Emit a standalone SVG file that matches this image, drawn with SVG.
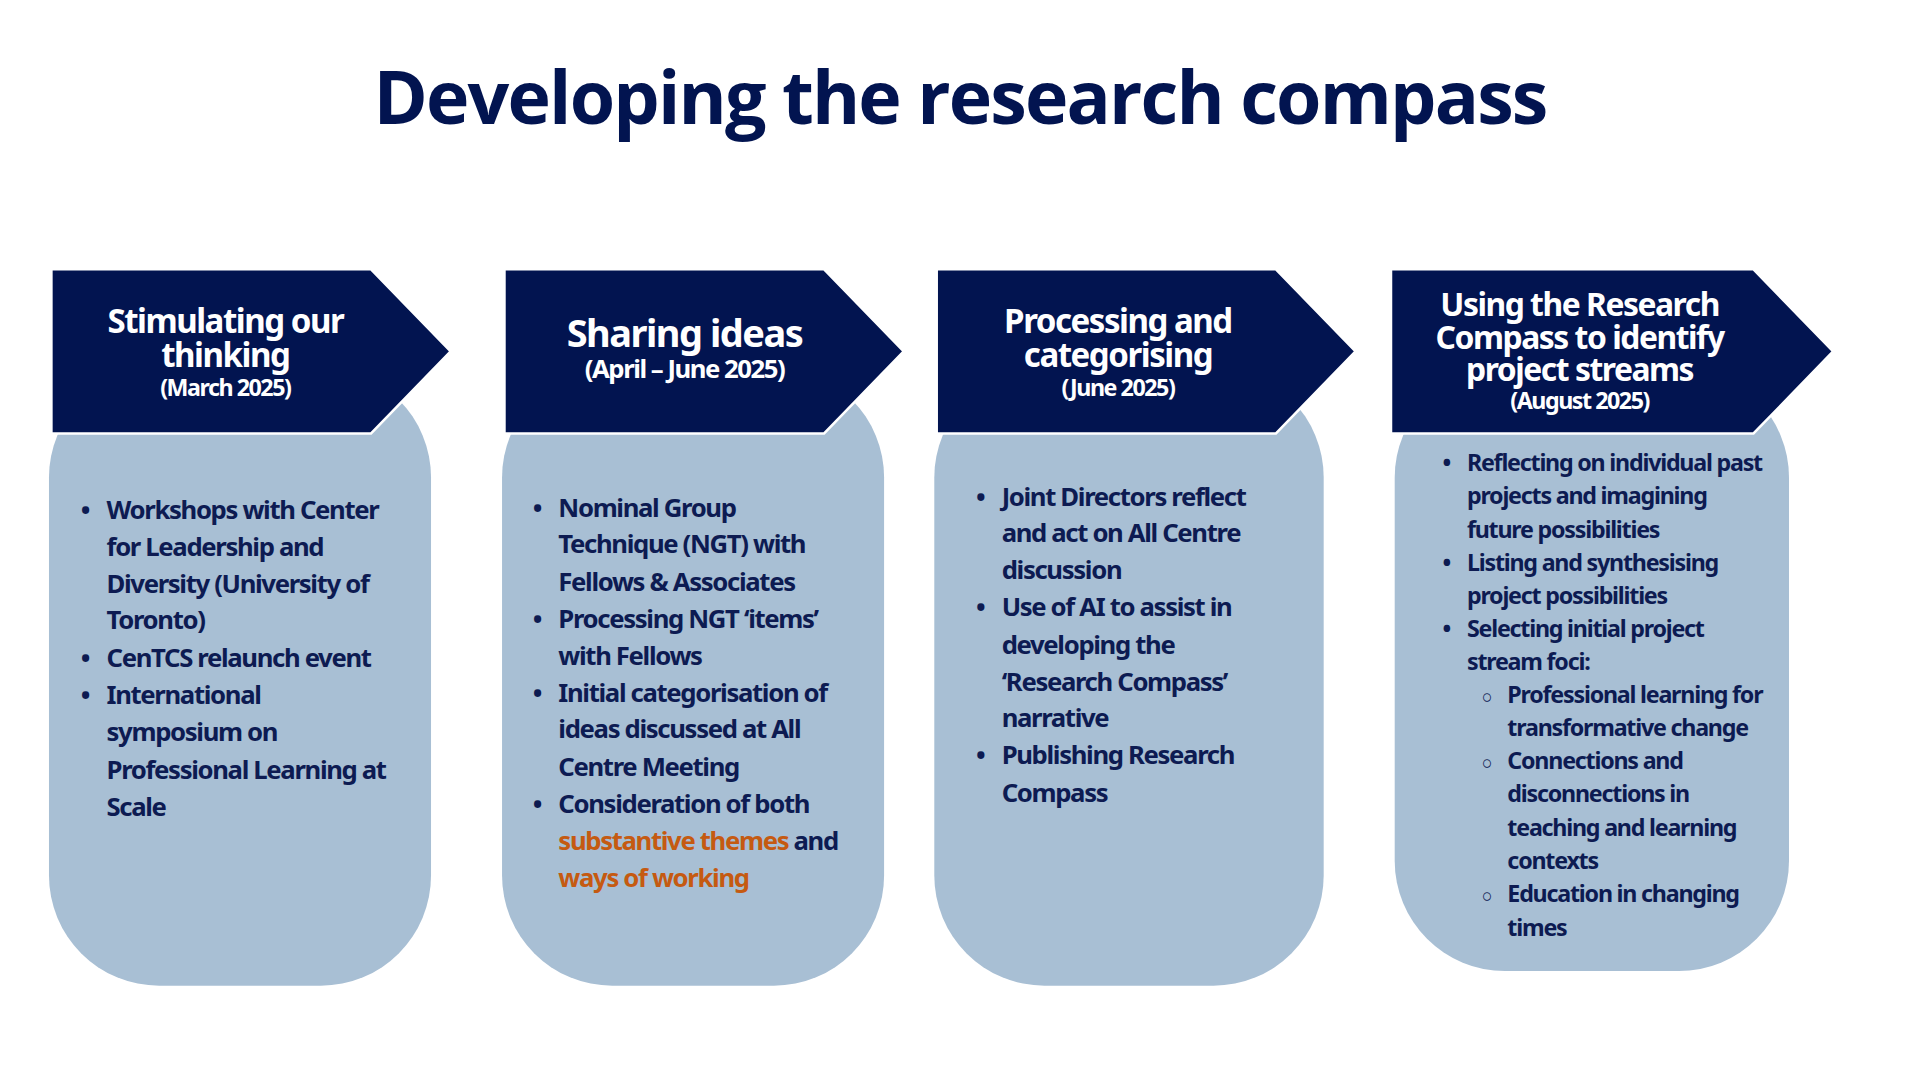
<svg xmlns="http://www.w3.org/2000/svg" width="1920" height="1080" viewBox="0 0 1920 1080">
<style>
.card{fill:#a8bfd4}
.hd{fill:#021450;stroke:#fff;stroke-width:2}
.ht{font-family:"Noto Sans",sans-serif;font-weight:700;fill:#fff;text-anchor:middle;letter-spacing:-1.2px}
.b{font-family:"Noto Sans",sans-serif;font-weight:700;fill:#0d1b52;font-size:21px;letter-spacing:-1.1px}
.b4{font-size:19px;letter-spacing:-1px}
.o{fill:#c55a11}
.t{font-family:"Open Sans","Noto Sans",sans-serif;font-weight:700;fill:#021450;font-size:60px;text-anchor:middle;letter-spacing:-1.5px}
</style>
<rect width="1920" height="1080" fill="#fff"/>
<g transform="scale(1.2245)">
<text class="t" x="784" y="101">Developing the research compass</text>
<g id="stage1">
<rect class="card" x="40" y="300" width="312" height="505" rx="90"/>
<polygon class="hd" points="42,220 303,220 368,287 303,354 42,354"/>
<text class="ht" font-size="27" x="184" y="272">Stimulating our</text>
<text class="ht" font-size="27" x="184" y="300">thinking</text>
<text class="ht" font-size="19" x="184" y="323">(March 2025)</text>
<g class="b">
<text x="66" y="424">•</text><text x="87" y="424">Workshops with Center</text>
<text x="87" y="454">for Leadership and</text>
<text x="87" y="484">Diversity (University of</text>
<text x="87" y="514">Toronto)</text>
<text x="66" y="545">•</text><text x="87" y="545">CenTCS relaunch event</text>
<text x="66" y="575">•</text><text x="87" y="575">International</text>
<text x="87" y="605">symposium on</text>
<text x="87" y="636">Professional Learning at</text>
<text x="87" y="666">Scale</text>
</g>
</g>
<g id="stage2">
<rect class="card" x="410" y="300" width="312" height="505" rx="90"/>
<polygon class="hd" points="412,220 673,220 738,287 673,354 412,354"/>
<text class="ht" font-size="31" x="559" y="283">Sharing ideas</text>
<text class="ht" font-size="21" x="559" y="309">(April – June 2025)</text>
<g class="b">
<text x="435" y="422">•</text><text x="456" y="422">Nominal Group</text>
<text x="456" y="452">Technique (NGT) with</text>
<text x="456" y="483">Fellows &amp; Associates</text>
<text x="435" y="513">•</text><text x="456" y="513">Processing NGT ‘items’</text>
<text x="456" y="543">with Fellows</text>
<text x="435" y="573">•</text><text x="456" y="573">Initial categorisation of</text>
<text x="456" y="603">ideas discussed at All</text>
<text x="456" y="634">Centre Meeting</text>
<text x="435" y="664">•</text><text x="456" y="664">Consideration of both</text>
<text x="456" y="694"><tspan class="o">substantive themes</tspan> and</text>
<text x="456" y="724" class="o">ways of working</text>
</g>
</g>
<g id="stage3">
<rect class="card" x="763" y="300" width="318" height="505" rx="90"/>
<polygon class="hd" points="765,220 1042,220 1107,287 1042,354 765,354"/>
<text class="ht" font-size="27" x="913" y="272">Processing and</text>
<text class="ht" font-size="27" x="913" y="300">categorising</text>
<text class="ht" font-size="19" x="913" y="323">(June 2025)</text>
<g class="b">
<text x="797" y="413">•</text><text x="818" y="413">Joint Directors reflect</text>
<text x="818" y="443">and act on All Centre</text>
<text x="818" y="473">discussion</text>
<text x="797" y="503">•</text><text x="818" y="503">Use of AI to assist in</text>
<text x="818" y="534">developing the</text>
<text x="818" y="564">‘Research Compass’</text>
<text x="818" y="594">narrative</text>
<text x="797" y="624">•</text><text x="818" y="624">Publishing Research</text>
<text x="818" y="655">Compass</text>
</g>
</g>
<g id="stage4">
<rect class="card" x="1139" y="300" width="322" height="493" rx="90"/>
<polygon class="hd" points="1136,220 1432,220 1497,287 1432,354 1136,354"/>
<text class="ht" font-size="26" x="1290" y="258">Using the Research</text>
<text class="ht" font-size="26" x="1290" y="285">Compass to identify</text>
<text class="ht" font-size="26" x="1290" y="311">project streams</text>
<text class="ht" font-size="19" x="1290" y="334">(August 2025)</text>
<g class="b b4">
<text x="1178" y="385">•</text><text x="1198" y="385">Reflecting on individual past</text>
<text x="1198" y="412">projects and imagining</text>
<text x="1198" y="439">future possibilities</text>
<text x="1178" y="466">•</text><text x="1198" y="466">Listing and synthesising</text>
<text x="1198" y="493">project possibilities</text>
<text x="1178" y="520">•</text><text x="1198" y="520">Selecting initial project</text>
<text x="1198" y="547">stream foci:</text>
<text x="1210" y="574" font-size="15">○</text><text x="1231" y="574">Professional learning for</text>
<text x="1231" y="601">transformative change</text>
<text x="1210" y="628" font-size="15">○</text><text x="1231" y="628">Connections and</text>
<text x="1231" y="655">disconnections in</text>
<text x="1231" y="683">teaching and learning</text>
<text x="1231" y="710">contexts</text>
<text x="1210" y="737" font-size="15">○</text><text x="1231" y="737">Education in changing</text>
<text x="1231" y="764">times</text>
</g>
</g>
<g id="connectors"/>
</g>
</svg>
